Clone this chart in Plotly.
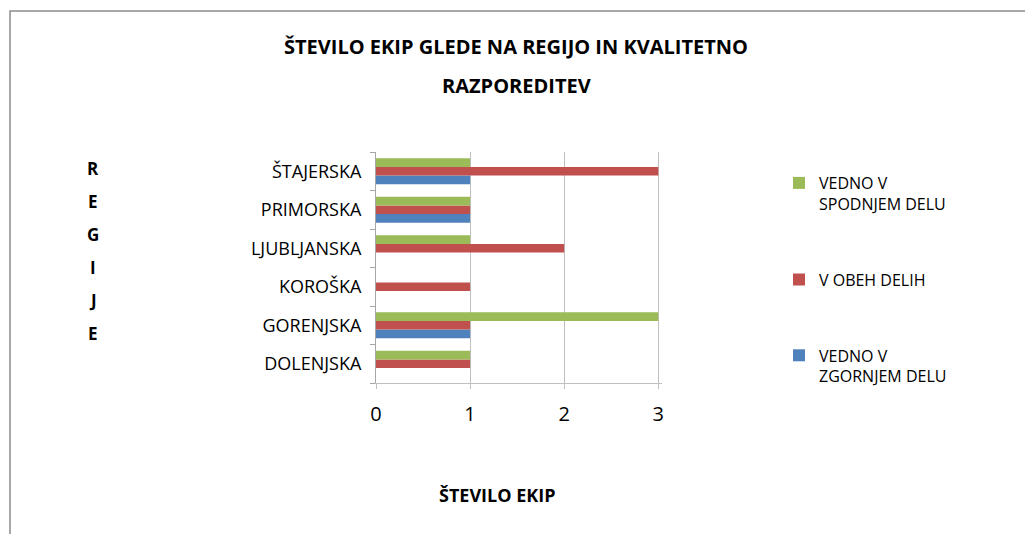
import plotly.graph_objects as go

# ---- data ----
regions = ["DOLENJSKA", "GORENJSKA", "KOROŠKA", "LJUBLJANSKA", "PRIMORSKA", "ŠTAJERSKA"]
vedno_zgornji = [0, 1, 0, 0, 1, 1]   # blue
v_obeh = [1, 1, 1, 2, 1, 3]          # red
vedno_spodnji = [1, 3, 0, 1, 1, 1]   # green

series_names = ["VEDNO V<br>ZGORNJEM DELU", "V OBEH DELIH", "VEDNO V<br>SPODNJEM DELU"]
series_values = [vedno_zgornji, v_obeh, vedno_spodnji]
series_colors = ["#4F81BD", "#C0504D", "#9BBB59"]
legend_ranks = [3, 2, 1]
x_ticks = [0, 1, 2, 3]

title_lines = ["ŠTEVILO EKIP GLEDE NA REGIJO IN KVALITETNO", "RAZPOREDITEV"]
y_title = "REGIJE"
x_title = "ŠTEVILO EKIP"

# ---- layout geometry (pixels in the page; the page body has an 8px margin) ----
PAGE_W, PAGE_H = 1033, 534
OFF = 8
L, R, T, B = 376, 662, 152, 383


def px(x):
    return (x - L) / (R - L)


def py(y):
    return (B - y) / (B - T)


FONT = "Open Sans"

fig = go.Figure()
for name, vals, col, rk in zip(series_names, series_values, series_colors, legend_ranks):
    fig.add_trace(go.Bar(
        y=regions, x=vals, name=name, orientation="h",
        marker=dict(color=col, line=dict(width=0)),
        legendgroup=name, legendrank=rk,
    ))

annotations = []
for i, line in enumerate(title_lines):
    annotations.append(dict(
        text=line, x=px(516), y=py([47, 86][i]), xref="paper", yref="paper",
        showarrow=False, xanchor="center", yanchor="middle",
        font=dict(family=FONT, size=20, color="#000000", weight="bold"),
    ))
for i, ch in enumerate(y_title):
    annotations.append(dict(
        text=ch, x=px(93), y=py(168 + i * 33), xref="paper", yref="paper",
        showarrow=False, xanchor="center", yanchor="middle",
        font=dict(family=FONT, size=17, color="#000000", weight="bold"),
    ))
annotations.append(dict(
    text=x_title, x=px(497), y=py(495), xref="paper", yref="paper",
    showarrow=False, xanchor="center", yanchor="middle",
    font=dict(family=FONT, size=18, color="#000000", weight="bold"),
))

fig.update_layout(
    width=PAGE_W - OFF, height=PAGE_H - OFF,
    margin=dict(l=L - OFF, r=PAGE_W - R, t=T - OFF, b=PAGE_H - B, pad=0),
    paper_bgcolor="white", plot_bgcolor="white",
    barmode="group", bargap=0.32, bargroupgap=0,
    font=dict(family=FONT, color="#000000"),
    showlegend=True,
    legend=dict(
        x=px(779), y=py(166), xanchor="left", yanchor="top",
        traceorder="grouped", tracegroupgap=52, valign="top",
        font=dict(family=FONT, size=16, color="#000000"),
        bgcolor="rgba(0,0,0,0)", itemwidth=30,
    ),
    xaxis=dict(
        range=[0, 3.04], tickvals=x_ticks, ticktext=[str(v) for v in x_ticks],
        showgrid=True, gridcolor="#BFBFBF", gridwidth=1, zeroline=False,
        showline=True, linecolor="#BFBFBF", ticks="outside", ticklen=5,
        tickcolor="#BFBFBF", tickfont=dict(family=FONT, size=20, color="#000000"),
        ticklabelstandoff=8, fixedrange=True,
    ),
    yaxis=dict(
        categoryorder="array", categoryarray=regions,
        showline=True, linecolor="#A6A6A6", ticks="outside", ticklen=5,
        tickcolor="#A6A6A6", tickson="boundaries", showgrid=False,
        tickfont=dict(family=FONT, size=18, color="#000000"),
        ticklabelstandoff=10, fixedrange=True,
    ),
    annotations=annotations,
    shapes=[dict(
        type="rect", xref="paper", yref="paper",
        x0=px(10), x1=px(1045), y0=py(545), y1=py(11),
        line=dict(color="#8C8C8C", width=1.5), fillcolor="rgba(0,0,0,0)", layer="below",
    )],
)

fig.write_html("out.html")
